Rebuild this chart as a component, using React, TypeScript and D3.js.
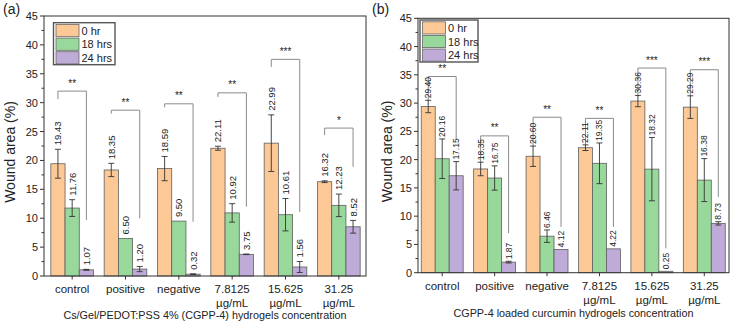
import React from "react";
import * as d3 from "d3";

// shared
const categories = ["control", "positive", "negative", "7.8125 µg/mL", "15.625 µg/mL", "31.25 µg/mL"];
const seriesNames = ["0 hr", "18 hrs", "24 hrs"];
const seriesColors = ["#FCC896", "#99D89B", "#BEABD8"];
const yTicks = [0, 5, 10, 15, 20, 25, 30, 35, 40, 45];

// panel (a) - Cs/Gel/PEDOT:PSS 4%
const aHr0 = [19.43, 18.35, 18.59, 22.11, 22.99, 16.32];
const aHr18 = [11.76, 6.5, 9.5, 10.92, 10.61, 12.23];
const aHr24 = [1.07, 1.2, 0.32, 3.75, 1.56, 8.52];
const aErr0 = [2.5, 1.15, 2.1, 0.35, 4.9, 0.15];
const aErr18 = [1.45, 0, 0, 1.6, 2.8, 1.95];
const aErr24 = [0.08, 0.45, 0.05, 0.05, 0.95, 1.1];
const aSig = ["**", "**", "**", "**", "***", "*"];
const aBracketTop = [32.0, 28.7, 29.8, 31.7, 37.5, 25.6];
const aBracketLeft = [30.6, 28.1, 29.2, 31.0, 36.2, 24.4];
const aBracketRight = [9.7, 10.0, 9.4, 12.0, 11.1, 18.9];

// panel (b) - curcumin loaded
const bHr0 = [29.4, 18.35, 20.6, 22.11, 30.36, 29.29];
const bHr18 = [20.16, 16.75, 6.46, 19.35, 18.32, 16.38];
const bHr24 = [17.15, 1.87, 4.12, 4.22, 0.25, 8.73];
const bErr0 = [1.1, 1.2, 1.8, 0.5, 1.0, 2.0];
const bErr18 = [3.5, 2.15, 1.1, 3.6, 5.6, 3.8];
const bErr24 = [2.5, 0.15, 0, 0, 0, 0.3];
const bSig = ["**", "**", "**", "**", "***", "***"];
const bBracketTop = [34.7, 24.2, 27.5, 27.3, 36.2, 35.9];
const bBracketLeft = [30.3, 19.5, 22.4, 22.6, 31.2, 31.2];
const bBracketRight = [23.5, 7.0, 8.1, 8.1, 4.3, 13.4];

const FONT = "'Liberation Sans', Arial, sans-serif";
const INK = "#222";

function Panel(props: any) {
  const { tag, tagX, values, errors, sig, bTop, bLeft, bRight, frame, xRange, xTitle,
    labelSize, labelGap, catY, titleY, legendX, legendY, legendW, axisTitleX } = props;

  const y = d3.scaleLinear().domain([0, 45]).range([frame.y1, frame.y0]);
  const x0 = d3.scaleBand<string>().domain(categories).range(xRange).paddingInner(0.2).paddingOuter(0.1);
  const x1 = d3.scaleBand<number>().domain([0, 1, 2]).range([0, x0.bandwidth()]);
  const minor = d3.range(2.5, 45, 5);

  const barX = (ci: number, si: number) => (x0(categories[ci]) as number) + (x1(si) as number);
  const barC = (ci: number, si: number) => barX(ci, si) + x1.bandwidth() / 2;

  return (
    <g fontFamily={FONT}>
      <text x={tagX} y={14} fontSize={14} fill={INK}>{tag}</text>

      {/* y axis */}
      {yTicks.map(t => (
        <g key={t}>
          <line x1={frame.x0 - 4} x2={frame.x0} y1={y(t)} y2={y(t)} stroke="#333" />
          <text x={frame.x0 - 6} y={y(t)} textAnchor="end" dominantBaseline="central" fontSize={11} fill={INK}>{t}</text>
        </g>
      ))}
      {minor.map(t => (
        <line key={t} x1={frame.x0 - 2.5} x2={frame.x0} y1={y(t)} y2={y(t)} stroke="#333" />
      ))}
      <text transform={`translate(${axisTitleX},${(frame.y0 + frame.y1) / 2 + 6}) rotate(-90)`}
        textAnchor="middle" dominantBaseline="central" fontSize={14} fill={INK}>Wound area (%)</text>

      {/* bars */}
      {values.map((vals: number[], si: number) =>
        vals.map((v, ci) => (
          <rect key={`${si}-${ci}`} x={barX(ci, si)} y={y(v)} width={x1.bandwidth()}
            height={y(0) - y(v)} fill={seriesColors[si]} stroke="#5f5f5f" strokeWidth={0.8} />
        ))
      )}

      {/* brackets */}
      {categories.map((c, ci) => {
        const xl = barC(ci, 0);
        const xr = barC(ci, 2);
        const yt = y(bTop[ci]);
        return (
          <g key={c}>
            <polyline points={`${xl},${y(bLeft[ci])} ${xl},${yt} ${xr},${yt} ${xr},${y(bRight[ci])}`}
              fill="none" stroke="#8a8a8a" strokeWidth={1} />
            <text x={(xl + xr) / 2} y={yt - 4.5} textAnchor="middle" fontSize={10} fill={INK}>{sig[ci]}</text>
          </g>
        );
      })}

      {/* error bars */}
      {values.map((vals: number[], si: number) =>
        vals.map((v, ci) => {
          const e = errors[si][ci];
          if (!e) return null;
          const cx = barC(ci, si);
          return (
            <g key={`e${si}-${ci}`} stroke="#333" strokeWidth={0.9}>
              <line x1={cx} x2={cx} y1={y(v - e)} y2={y(v + e)} />
              <line x1={cx - 3} x2={cx + 3} y1={y(v + e)} y2={y(v + e)} />
              <line x1={cx - 3} x2={cx + 3} y1={y(v - e)} y2={y(v - e)} />
            </g>
          );
        })
      )}

      {/* value labels */}
      {values.map((vals: number[], si: number) =>
        vals.map((v, ci) => (
          <text key={`l${si}-${ci}`}
            transform={`translate(${barC(ci, si)},${y(v + errors[si][ci]) - labelGap}) rotate(-90)`}
            dominantBaseline="central" fontSize={labelSize} fill={INK}>{v.toFixed(2)}</text>
        ))
      )}

      {/* frame */}
      <rect x={frame.x0} y={frame.y0} width={frame.x1 - frame.x0} height={frame.y1 - frame.y0}
        fill="none" stroke="#333" strokeWidth={1} />

      {/* x axis */}
      {categories.map((c, ci) => {
        const cx = (x0(c) as number) + x0.bandwidth() / 2;
        const lines = c.split(" ");
        return (
          <g key={c}>
            <line x1={cx} x2={cx} y1={frame.y1} y2={frame.y1 + 3.5} stroke="#333" />
            {lines.map((l, li) => (
              <text key={li} x={cx} y={catY + li * 13.5} textAnchor="middle" fontSize={11.5} fill={INK}>{l}</text>
            ))}
          </g>
        );
      })}
      <text x={(frame.x0 + frame.x1) / 2} y={titleY} textAnchor="middle" fontSize={10.8} fill={INK}>{xTitle}</text>

      {/* legend */}
      <rect x={legendX} y={legendY} width={legendW} height={42} fill="#fff" stroke="#555" strokeWidth={1.4} />
      {seriesNames.map((s, si) => (
        <g key={s}>
          <rect x={legendX + 2.5} y={legendY + 1.8 + si * 13.6} width={23} height={12.2}
            fill={seriesColors[si]} stroke="#666" strokeWidth={0.8} />
          <text x={legendX + 28} y={legendY + 8 + si * 13.6} dominantBaseline="central" fontSize={11} fill={INK}>{s}</text>
        </g>
      ))}
    </g>
  );
}

export default function App() {
  return (
    <svg width={733} height={326} style={{ position: "absolute", left: 0, top: 0, background: "#fff" }}>
      <Panel tag="(a)" tagX={3}
        values={[aHr0, aHr18, aHr24]} errors={[aErr0, aErr18, aErr24]}
        sig={aSig} bTop={aBracketTop} bLeft={aBracketLeft} bRight={aBracketRight}
        frame={{ x0: 44, x1: 366, y0: 16, y1: 276 }} xRange={[45.5, 365.5]}
        xTitle="Cs/Gel/PEDOT:PSS 4% (CGPP-4) hydrogels concentration"
        labelSize={9.5} labelGap={4} catY={293} titleY={319}
        legendX={53.5} legendY={22.7} legendW={61.5} axisTitleX={10} />
      <Panel tag="(b)" tagX={372}
        values={[bHr0, bHr18, bHr24]} errors={[bErr0, bErr18, bErr24]}
        sig={bSig} bTop={bBracketTop} bLeft={bBracketLeft} bRight={bBracketRight}
        frame={{ x0: 418, x1: 729, y0: 18.3, y1: 272.7 }} xRange={[416, 730.5]}
        xTitle="CGPP-4 loaded curcumin hydrogels concentration"
        labelSize={8.5} labelGap={2} catY={290} titleY={317}
        legendX={420} legendY={20} legendW={58} axisTitleX={387} />
    </svg>
  );
}
